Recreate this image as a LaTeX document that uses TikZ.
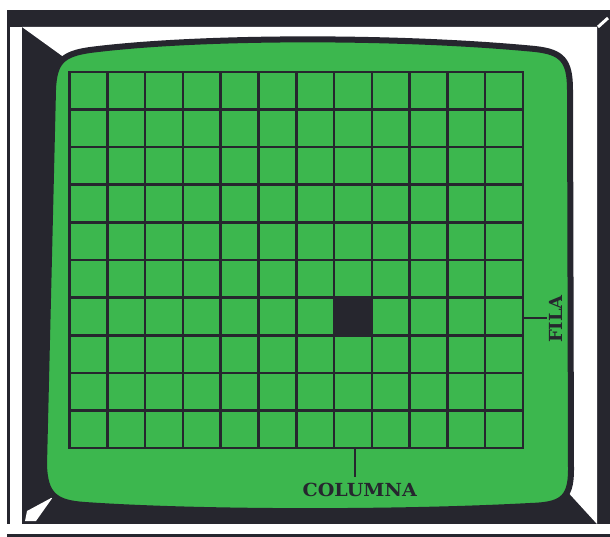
\documentclass[tikz,border=0pt]{standalone}
\usepackage{fontspec}
\setmainfont{DejaVu Serif}
\definecolor{scr}{RGB}{60,183,78}
\definecolor{ink}{RGB}{38,38,46}
\begin{document}
\begin{tikzpicture}[x=1pt,y=-1pt,
  gridline/.style={draw=ink,line width=2.6pt},
  tickline/.style={draw=ink,line width=2.3pt},
  lbl/.style={font=\bfseries\fontsize{18}{20}\selectfont,text=ink,inner sep=0pt}]
\useasboundingbox (0,0) rectangle (610,537);
\fill[white] (0,0) rectangle (610,537);
% cabinet
\fill[ink] (7,10) rectangle (610,524);
\fill[white] (10,27) rectangle (22,534);
\fill[white] (10,524) rectangle (610,534);
\fill[ink] (7,534) rectangle (610,536.5);
% light bevel (top and right)
\fill[white] (22,27) -- (597,27) -- (597,524) -- (565,489) -- (65,58) -- cycle;
% highlights
\fill[white] (25,521) -- (27,511) -- (53,497) -- (36,521) -- cycle;
\draw[white,line width=3pt] (598,27) -- (608,18);
% screen
\filldraw[fill=scr,draw=ink,line width=6pt]
  (53,90) .. controls (54,62) and (62,54) .. (90,50)
  .. controls (200,36) and (400,36) .. (535,49)
  .. controls (562,52) and (570,60) .. (570,90)
  -- (571,470)
  .. controls (571,500) and (560,505) .. (530,506)
  .. controls (400,513) and (200,513) .. (85,505)
  .. controls (55,503) and (45,495) .. (44,465)
  -- cycle;
% grid
\foreach \i in {1,...,11} \draw[gridline] ({69.5+\i*37.79},72) -- ({69.5+\i*37.79},448);
\foreach \j in {1,...,9} \draw[gridline] (69.5,{72+\j*37.6}) -- (523,{72+\j*37.6});
\draw[gridline,line width=2.8pt] (69.5,72) rectangle (523,448);
% selected cell
\fill[ink] ({69.5+7*37.79},{72+6*37.6}) rectangle ++(37.79,37.6);
% labels
\coordinate (colTop) at (355,448);
\coordinate (colEnd) at (355,477);
\node[lbl] (colLabel) at (359.7,489.5) {\scalebox{1.06}[1]{COLUMNA}};
\draw[tickline] (colTop) -- (colEnd);
\coordinate (filTop) at (523,318);
\coordinate (filEnd) at (547,318);
\node[lbl,rotate=90] (filLabel) at (556,319) {\scalebox{1.0}[1]{FILA}};
\draw[tickline] (filTop) -- (filEnd);
\end{tikzpicture}
\end{document}
